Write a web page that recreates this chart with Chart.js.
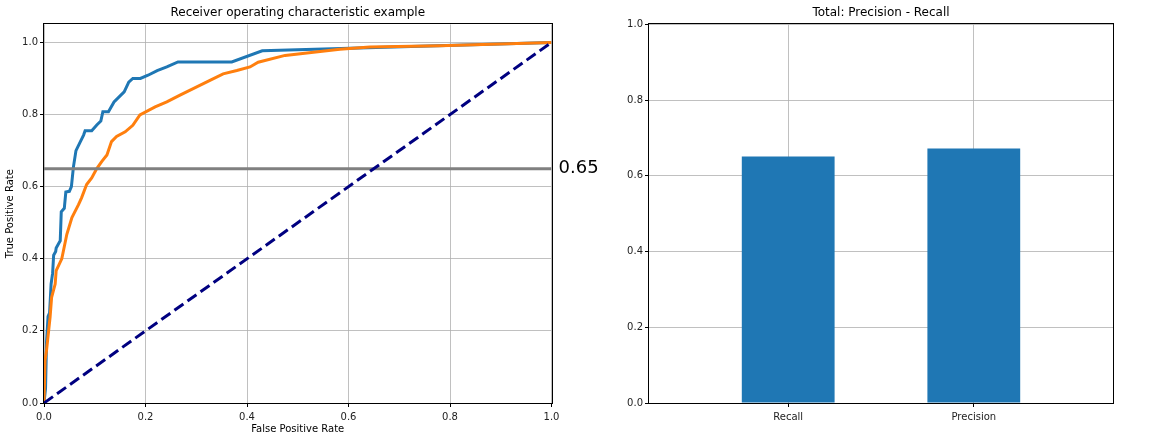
<!DOCTYPE html>
<html>
<head>
<meta charset="utf-8">
<script src="https://cdn.jsdelivr.net/npm/chart.js@4/dist/chart.umd.min.js"></script>
<style>
  body { margin: 0; background: #fff; }
  #left { position: absolute; left: 0; top: 0; }
  #right { position: absolute; left: 610px; top: 0; }
</style>
</head>
<body>
<canvas id="left" width="610" height="441"></canvas>
<canvas id="right" width="560" height="441"></canvas>
<script>
// ROC curve points
let blueFpr = [0, 0.003, 0.005, 0.008, 0.011, 0.014, 0.017, 0.019, 0.023, 0.024, 0.03, 0.032, 0.034, 0.04, 0.043, 0.05, 0.054, 0.058, 0.063, 0.07, 0.078, 0.081, 0.094, 0.104, 0.112, 0.116, 0.127, 0.138, 0.158, 0.167, 0.175, 0.19, 0.205, 0.223, 0.242, 0.264, 0.37, 0.43, 1];
let blueTpr = [0, 0.04, 0.17, 0.24, 0.25, 0.33, 0.36, 0.41, 0.42, 0.43, 0.445, 0.45, 0.53, 0.54, 0.585, 0.587, 0.6, 0.655, 0.7, 0.72, 0.743, 0.755, 0.755, 0.771, 0.782, 0.808, 0.808, 0.835, 0.863, 0.89, 0.9, 0.9, 0.909, 0.922, 0.932, 0.946, 0.946, 0.977, 1];

let orangeFpr = [0, 0.002, 0.005, 0.012, 0.015, 0.022, 0.024, 0.035, 0.038, 0.045, 0.055, 0.068, 0.074, 0.084, 0.094, 0.104, 0.114, 0.124, 0.133, 0.143, 0.16, 0.175, 0.189, 0.219, 0.242, 0.268, 0.294, 0.327, 0.353, 0.38, 0.406, 0.422, 0.475, 0.583, 0.642, 0.78, 1];
let orangeTpr = [0, 0.118, 0.146, 0.238, 0.293, 0.33, 0.367, 0.4, 0.42, 0.468, 0.514, 0.55, 0.569, 0.606, 0.624, 0.65, 0.67, 0.688, 0.725, 0.739, 0.752, 0.77, 0.799, 0.821, 0.835, 0.854, 0.872, 0.895, 0.913, 0.922, 0.932, 0.945, 0.964, 0.981, 0.987, 0.991, 1];

let chanceLine = [0, 1];
let threshold = 0.65;
let rocTicks = [0, 0.2, 0.4, 0.6, 0.8, 1.0];

// bar chart
let barLabels = ['Recall', 'Precision'];
let barValues = [0.651, 0.672];

let fontFamily = '"DejaVu Sans", sans-serif';

function toPoints(xs, ys) {
    return xs.map((x, i) => ({ x: x, y: ys[i] }));
}

// draws the box around the plot like matplotlib spines
let spines = {
    id: 'spines',
    afterDraw(chart) {
        let a = chart.chartArea;
        let ctx = chart.ctx;
        ctx.save();
        ctx.strokeStyle = '#000';
        ctx.lineWidth = 1;
        ctx.strokeRect(Math.round(a.left) - 0.5, Math.round(a.top) - 0.5, Math.round(a.right - a.left) + 1, Math.round(a.bottom - a.top) + 1);
        ctx.restore();
    }
};

let thresholdLabel = {
    id: 'thresholdLabel',
    afterDraw(chart) {
        let ctx = chart.ctx;
        let y = chart.scales.y.getPixelForValue(threshold);
        ctx.save();
        ctx.font = '18px ' + fontFamily;
        ctx.fillStyle = '#000';
        ctx.textBaseline = 'middle';
        ctx.textAlign = 'left';
        ctx.fillText(threshold.toFixed(2), chart.chartArea.right + 7, y);
        ctx.restore();
    }
};

let tickFont = { family: fontFamily, size: 10 };
let gridStyle = { color: '#b0b0b0', lineWidth: 0.8, tickLength: 4, tickColor: '#000', tickWidth: 1, offset: false };
let titleStyle = { family: fontFamily, size: 12, weight: 'normal' };

new Chart(document.getElementById('left'), {
    type: 'line',
    data: {
        datasets: [
            {
                data: toPoints(chanceLine, chanceLine),
                borderColor: '#000080',
                borderWidth: 3,
                borderDash: [11, 5],
                pointRadius: 0
            },
            {
                data: toPoints(chanceLine, [threshold, threshold]),
                borderColor: '#808080',
                borderWidth: 3,
                pointRadius: 0
            },
            {
                data: toPoints(orangeFpr, orangeTpr),
                borderColor: '#ff7f0e',
                borderWidth: 3,
                pointRadius: 0
            },
            {
                data: toPoints(blueFpr, blueTpr),
                borderColor: '#1f77b4',
                borderWidth: 3,
                pointRadius: 0
            }
        ]
    },
    options: {
        responsive: false,
        animation: false,
        layout: { padding: { right: 58.5 } },
        plugins: {
            legend: { display: false },
            tooltip: { enabled: false },
            title: {
                display: true,
                text: 'Receiver operating characteristic example',
                fullSize: false,
                color: '#000',
                font: titleStyle,
                padding: { top: 6, bottom: 4 }
            }
        },
        scales: {
            x: {
                type: 'linear',
                min: 0,
                max: 1,
                afterBuildTicks: (scale) => { scale.ticks = rocTicks.map(v => ({ value: v })); },
                afterFit: (scale) => { scale.height = 38; },
                ticks: { font: tickFont, color: '#222', padding: 4, maxRotation: 0, callback: (v) => v.toFixed(1) },
                grid: gridStyle,
                border: { display: false },
                title: { display: true, text: 'False Positive Rate', color: '#000', font: tickFont, padding: { top: 0, bottom: 6 } }
            },
            y: {
                min: 0,
                max: 1.05,
                afterBuildTicks: (scale) => { scale.ticks = rocTicks.map(v => ({ value: v })); },
                afterFit: (scale) => { scale.width = 44; },
                ticks: { font: tickFont, color: '#222', padding: 2, callback: (v) => v.toFixed(1) },
                grid: gridStyle,
                border: { display: false },
                title: { display: true, text: 'True Positive Rate', color: '#000', font: tickFont, padding: { top: 4, bottom: 0 } }
            }
        }
    },
    plugins: [spines, thresholdLabel]
});

new Chart(document.getElementById('right'), {
    type: 'bar',
    data: {
        datasets: [{
            data: barValues.map((v, i) => ({ x: i, y: v })),
            backgroundColor: '#1f77b4',
            borderWidth: 0,
            barPercentage: 0.5,
            categoryPercentage: 1.0
        }]
    },
    options: {
        responsive: false,
        animation: false,
        layout: { padding: { right: 57 } },
        plugins: {
            legend: { display: false },
            tooltip: { enabled: false },
            title: {
                display: true,
                text: 'Total: Precision - Recall',
                fullSize: false,
                color: '#000',
                font: titleStyle,
                padding: { top: 6, bottom: 4 }
            }
        },
        scales: {
            x: {
                type: 'linear',
                min: -0.75,
                max: 1.75,
                offset: false,
                z: 1,
                afterBuildTicks: (scale) => { scale.ticks = barLabels.map((l, i) => ({ value: i })); },
                afterFit: (scale) => { scale.height = 38; },
                ticks: { font: tickFont, color: '#222', padding: 4, maxRotation: 0, callback: (v) => barLabels[Math.round(v)] },
                grid: gridStyle,
                border: { display: false }
            },
            y: {
                min: 0,
                max: 1,
                z: 1,
                afterBuildTicks: (scale) => { scale.ticks = rocTicks.map(v => ({ value: v })); },
                afterFit: (scale) => { scale.width = 39; },
                ticks: { font: tickFont, color: '#222', padding: 2, callback: (v) => v.toFixed(1) },
                grid: gridStyle,
                border: { display: false }
            }
        }
    },
    plugins: [spines]
});
</script>
</body>
</html>
